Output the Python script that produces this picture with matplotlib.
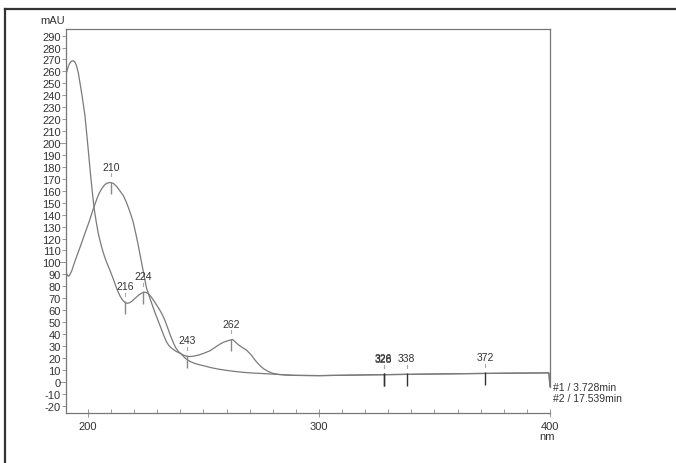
import matplotlib
matplotlib.use("Agg")
import matplotlib.pyplot as plt
import numpy as np
from matplotlib.lines import Line2D

plt.rcParams['font.family'] = ['Liberation Sans', 'DejaVu Sans']

# ---- data ----
wl_a = [190.5, 191, 191.5, 192, 193, 194, 195.1, 197, 199, 200.5, 202.3, 204, 205,
        205.9, 207, 208, 209.5, 211, 212.5, 214, 215.3, 216.5, 217.5, 218.5, 219.6,
        220.5, 221.5, 222.5, 223.5, 224.5, 225.4, 226, 227, 228, 229, 230, 231, 232,
        233, 234, 235, 236, 238, 240, 241.5, 243, 244.5, 246, 248, 250, 252.8, 255.5,
        257.5, 259, 260.7, 262.6, 264, 265.5, 267, 268.5, 269.7, 270.9, 272, 273.3,
        274.5, 276, 277.5, 278.8, 280.5, 282.5, 286, 290, 300, 320, 340, 360, 380,
        399.5, 400]
abs_a = [92, 89.5, 88.5, 89, 93, 99, 105, 115, 126, 134, 144.7, 154, 158.5,
         161.5, 164.5, 166.2, 167, 166.2, 163.5, 159.5, 156, 151, 146, 140.5, 133.6,
         126, 117, 107, 97, 87, 78, 75, 69, 63.5, 58, 53, 48, 43,
         38, 33.5, 30.5, 28.5, 25.7, 23.8, 22.2, 21.3, 21.2, 21.6, 22.5, 23.8, 26, 29.5,
         32, 33.4, 34.5, 35.5, 33, 30.5, 28.5, 26.8, 24.5, 22, 19, 16,
         13.5, 11, 9.3, 8, 6.9, 6.2, 5.7, 5.4, 5.2, 5.8, 6.3, 6.8, 7.2,
         7.5, -4]

wl_b = [190.5, 191, 191.5, 192, 192.8, 193.6, 194.3, 195, 195.8, 196.5, 197.5, 198.7,
        200.1, 201, 202, 202.7, 203.5, 204.5, 205.9, 207, 208, 209.5, 211, 212, 213,
        214, 215, 216, 217, 218, 219, 220, 221, 222, 223, 224, 224.7, 225.5, 226.5,
        227.5, 228.5, 229.5, 230.5, 231.5, 232.5, 233.5, 234.5, 235.5, 236.9, 238,
        239.2, 240.5, 242, 243, 244.5, 246, 248, 250, 253, 256, 260, 263.5, 267, 271,
        275, 278.5, 282.5, 286, 290, 300, 320, 340, 360, 380, 399.5, 400]
abs_b = [257.6, 261, 264, 266.5, 268.3, 269, 268, 265, 259, 251, 239, 223,
         195, 176, 157, 145, 135, 124, 113, 106, 100.5, 93.5, 86, 80.5, 75.5,
         71.5, 68.5, 66.5, 65.8, 66.2, 67.5, 69.3, 71, 72.7, 74, 74.8, 75, 74.7, 73.2,
         70.8, 68, 65, 62, 58.8, 55, 50.5, 45.3, 39.8, 33, 28.5,
         25.3, 23, 20, 18.5, 16.8, 15.6, 14.4, 13.5, 12, 10.8, 9.6, 8.7, 8, 7.4,
         7, 6.6, 6.2, 5.7, 5.4, 5.2, 5.8, 6.3, 6.8, 7.2, 7.5, -4]

peak_nm = [210, 216, 224, 243, 262, 328, 328, 338, 372]
peak_text = ["210", "216", "224", "243", "262", "326", "328", "338", "372"]
peak_curve = ["a", "b", "b", "a", "a", "a", "a", "a", "a"]

y_ticks = list(range(-20, 300, 10))
x_major = [200, 300, 400]
legend_lines = ["#1 / 3.728min", "#2 / 17.539min"]

# ---- figure ----
W, H = 676, 464
fig = plt.figure(figsize=(W / 100, H / 100), dpi=100)
fig.patch.set_facecolor('white')

ax = fig.add_axes([66 / W, (H - 414) / H, (550 - 66) / W, (414 - 30) / H])
ax.set_xlim(190.5, 400)
ax.set_ylim(-26.1, 295.5)

line_col = '#7a7a7a'
text_col = '#333333'
ax.plot(wl_a, abs_a, color=line_col, lw=0.9)
ax.plot(wl_b, abs_b, color=line_col, lw=0.9)

# peak markers
for nm, txt, cv in zip(peak_nm, peak_text, peak_curve):
    xs, ys = (wl_a, abs_a) if cv == "a" else (wl_b, abs_b)
    yv = float(np.interp(nm, xs, ys))
    base = nm > 300
    ax.plot([nm, nm], [yv + 1, yv - 9.5], color='#333333' if base else '#888888',
            lw=1.0, solid_capstyle='butt')
    ax.plot([nm, nm], [yv + 5.5, yv + 8], color='#aaaaaa', lw=0.8)
    dy = 0.6 if txt == "326" else 0
    ax.text(nm, yv + 13.5 + dy, txt, ha='center', va='center', fontsize=7.5,
            color=text_col)

# axes styling
for s in ['left', 'bottom', 'top', 'right']:
    ax.spines[s].set_color('#777777')
    ax.spines[s].set_linewidth(0.9)
ax.spines['right'].set_bounds(-4, 295.5)

ax.set_yticks(y_ticks)
ax.set_yticklabels([str(v) for v in y_ticks])
ax.tick_params(axis='y', which='major', length=3, width=0.6, color='#888888',
               labelsize=8, labelcolor=text_col, pad=0.8)
for t in ax.yaxis.get_major_ticks():
    if t.get_loc() in (0, 100, 200):
        t.tick1line.set_markersize(5)

ax.set_xticks(x_major)
ax.set_xticks(list(range(200, 400, 10)), minor=True)
ax.tick_params(axis='x', which='major', direction='inout', length=6, width=0.6,
               color='#888888', labelsize=8, labelcolor=text_col, pad=2.5)
ax.tick_params(axis='x', which='minor', direction='in', length=3, width=0.6,
               color='#888888')

# labels
fig.text(53 / W, 1 - 21 / H, "mAU", ha='center', va='center', fontsize=8,
         color=text_col)
fig.text(547 / W, 1 - 437 / H, "nm", ha='center', va='center', fontsize=8,
         color=text_col)
fig.text(553 / W, 1 - 388 / H, legend_lines[0], ha='left', va='center', fontsize=7.5,
         color=text_col)
fig.text(553 / W, 1 - 399 / H, legend_lines[1], ha='left', va='center', fontsize=7.5,
         color=text_col)

# outer scan frame
fig.add_artist(Line2D([5 / W, 5 / W], [0, 1 - 10 / H], transform=fig.transFigure,
                      color='#333333', lw=1.6))
fig.add_artist(Line2D([5 / W, 1], [1 - 10 / H, 1 - 10 / H], transform=fig.transFigure,
                      color='#333333', lw=1.6))

fig.savefig("out.png", dpi=100)
